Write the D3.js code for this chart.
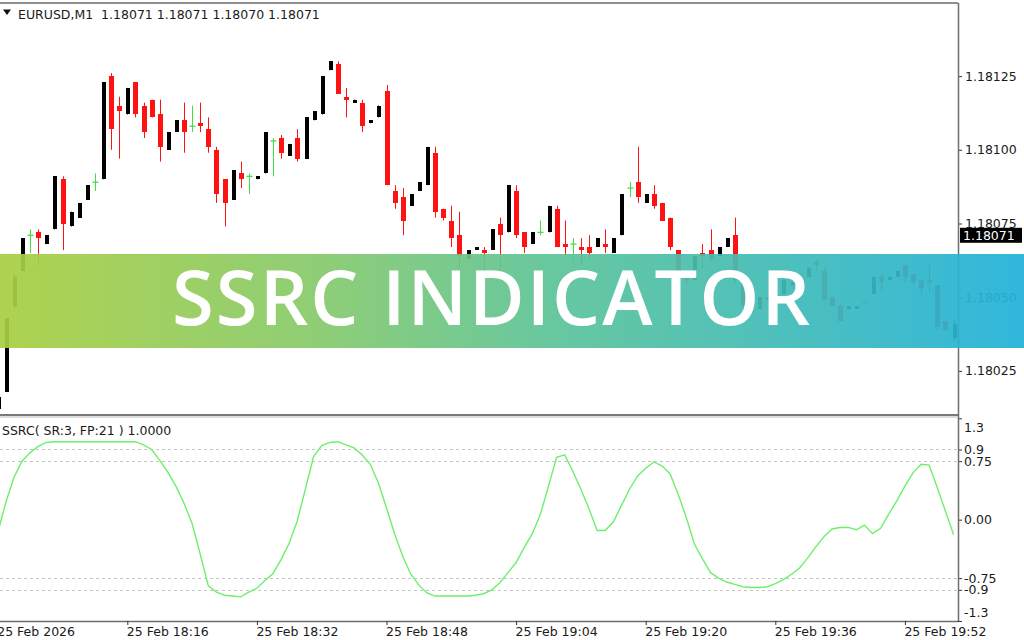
<!DOCTYPE html>
<html>
<head>
<meta charset="utf-8">
<script src="https://cdn.jsdelivr.net/npm/d3@7"></script>
<style>
  body { margin: 0; background: #fff; }
  svg { display: block; font-family: "DejaVu Sans", sans-serif; }
  .axis text { font-size: 12.5px; fill: #1a1a1a; font-family: "DejaVu Sans", sans-serif; }
</style>
</head>
<body>
<div id="chart"></div>
<script>
// EURUSD M1 bars, 18:00 .. 19:58 (bar 0 is cut off by the left edge)
const openP = [1.18012, 1.18018, 1.18047, 1.18059, 1.18071, 1.18072, 1.18068, 1.18073, 1.18090, 1.18074,
  1.18077, 1.18083, 1.18089, 1.18090, 1.18125, 1.18115, 1.18112, 1.18123, 1.18115, 1.18117,
  1.18112, 1.18100, 1.18106, 1.18110, 1.18108, 1.18109, 1.18107, 1.18100, 1.18090, 1.18083,
  1.18092, 1.18091, 1.18090, 1.18092, 1.18103, 1.18104, 1.18098, 1.18104, 1.18097, 1.18110,
  1.18112, 1.18127, 1.18129, 1.18118, 1.18116, 1.18116, 1.18109, 1.18111, 1.18120, 1.18086,
  1.18084, 1.18081, 1.18086, 1.18088, 1.18099, 1.18080, 1.18076, 1.18071, 1.18063, 1.18066,
  1.18066, 1.18066, 1.18075, 1.18072, 1.18086, 1.18072, 1.18068, 1.18072, 1.18072, 1.18080,
  1.18068, 1.18068, 1.18067, 1.18067, 1.18067, 1.18068, 1.18065, 1.18071, 1.18087, 1.18089,
  1.18082, 1.18085, 1.18082, 1.18077, 1.18066, 1.18057, 1.18056, 1.18065, 1.18066, 1.18064,
  1.18067, 1.18071, 1.18056, 1.18047, 1.18046, 1.18050, 1.18048, 1.18051, 1.18054, 1.18055,
  1.18057, 1.18062, 1.18059, 1.18050, 1.18047, 1.18046, 1.18046, 1.18048, 1.18051, 1.18057,
  1.18056, 1.18057, 1.18061, 1.18058, 1.18056, 1.18056, 1.18054, 1.18042, 1.18036]
const highP = [1.18020, 1.18043, 1.18058, 1.18070, 1.18073, 1.18073, 1.18071, 1.18091, 1.18091, 1.18079,
  1.18082, 1.18088, 1.18092, 1.18123, 1.18126, 1.18118, 1.18121, 1.18123, 1.18116, 1.18117,
  1.18117, 1.18106, 1.18110, 1.18116, 1.18115, 1.18116, 1.18111, 1.18101, 1.18090, 1.18093,
  1.18096, 1.18092, 1.18091, 1.18106, 1.18104, 1.18105, 1.18102, 1.18107, 1.18111, 1.18113,
  1.18125, 1.18130, 1.18130, 1.18121, 1.18117, 1.18117, 1.18110, 1.18115, 1.18122, 1.18088,
  1.18087, 1.18085, 1.18089, 1.18101, 1.18101, 1.18080, 1.18081, 1.18079, 1.18066, 1.18067,
  1.18067, 1.18073, 1.18077, 1.18088, 1.18088, 1.18072, 1.18072, 1.18076, 1.18081, 1.18081,
  1.18076, 1.18070, 1.18070, 1.18071, 1.18070, 1.18073, 1.18070, 1.18085, 1.18089, 1.18101,
  1.18085, 1.18088, 1.18082, 1.18077, 1.18066, 1.18058, 1.18064, 1.18068, 1.18073, 1.18067,
  1.18070, 1.18077, 1.18056, 1.18048, 1.18050, 1.18050, 1.18051, 1.18056, 1.18055, 1.18057,
  1.18060, 1.18063, 1.18060, 1.18050, 1.18048, 1.18047, 1.18047, 1.18048, 1.18057, 1.18058,
  1.18057, 1.18059, 1.18061, 1.18058, 1.18056, 1.18061, 1.18054, 1.18042, 1.18042]
const lowP = [1.18010, 1.18018, 1.18046, 1.18059, 1.18065, 1.18061, 1.18068, 1.18073, 1.18066, 1.18074,
  1.18077, 1.18083, 1.18086, 1.18090, 1.18100, 1.18097, 1.18112, 1.18111, 1.18104, 1.18111,
  1.18096, 1.18100, 1.18106, 1.18099, 1.18106, 1.18106, 1.18099, 1.18082, 1.18074, 1.18083,
  1.18087, 1.18085, 1.18090, 1.18092, 1.18091, 1.18097, 1.18098, 1.18096, 1.18097, 1.18110,
  1.18112, 1.18127, 1.18119, 1.18111, 1.18116, 1.18106, 1.18109, 1.18111, 1.18088, 1.18080,
  1.18071, 1.18081, 1.18086, 1.18088, 1.18077, 1.18076, 1.18067, 1.18060, 1.18063, 1.18066,
  1.18059, 1.18066, 1.18059, 1.18072, 1.18070, 1.18065, 1.18068, 1.18071, 1.18072, 1.18067,
  1.18064, 1.18061, 1.18061, 1.18063, 1.18067, 1.18065, 1.18065, 1.18071, 1.18084, 1.18082,
  1.18082, 1.18080, 1.18076, 1.18066, 1.18056, 1.18054, 1.18056, 1.18060, 1.18062, 1.18064,
  1.18067, 1.18055, 1.18046, 1.18044, 1.18046, 1.18049, 1.18048, 1.18051, 1.18054, 1.18055,
  1.18057, 1.18059, 1.18049, 1.18047, 1.18042, 1.18046, 1.18046, 1.18047, 1.18051, 1.18052,
  1.18056, 1.18057, 1.18055, 1.18054, 1.18051, 1.18052, 1.18039, 1.18039, 1.18035]
const closeP = [1.18016, 1.18043, 1.18057, 1.18070, 1.18071, 1.18070, 1.18071, 1.18091, 1.18075, 1.18079,
  1.18082, 1.18088, 1.18089, 1.18123, 1.18107, 1.18113, 1.18121, 1.18112, 1.18106, 1.18111,
  1.18101, 1.18106, 1.18110, 1.18106, 1.18108, 1.18108, 1.18101, 1.18085, 1.18082, 1.18093,
  1.18090, 1.18091, 1.18091, 1.18106, 1.18103, 1.18099, 1.18102, 1.18097, 1.18111, 1.18113,
  1.18125, 1.18130, 1.18119, 1.18117, 1.18117, 1.18108, 1.18110, 1.18115, 1.18088, 1.18082,
  1.18076, 1.18085, 1.18089, 1.18101, 1.18079, 1.18077, 1.18070, 1.18064, 1.18066, 1.18067,
  1.18065, 1.18073, 1.18071, 1.18088, 1.18071, 1.18067, 1.18072, 1.18072, 1.18081, 1.18067,
  1.18067, 1.18068, 1.18066, 1.18065, 1.18070, 1.18067, 1.18070, 1.18085, 1.18087, 1.18084,
  1.18085, 1.18081, 1.18076, 1.18067, 1.18057, 1.18056, 1.18064, 1.18064, 1.18063, 1.18067,
  1.18070, 1.18056, 1.18047, 1.18045, 1.18050, 1.18049, 1.18051, 1.18056, 1.18055, 1.18057,
  1.18060, 1.18061, 1.18049, 1.18047, 1.18042, 1.18047, 1.18047, 1.18048, 1.18057, 1.18055,
  1.18057, 1.18059, 1.18057, 1.18055, 1.18053, 1.18055, 1.18040, 1.18039, 1.18041]

// SSRC(SR:3, FP:21) per bar
const ssrc = [-0.17, 0.22, 0.54, 0.75, 0.86, 0.94, 0.99, 1.0, 1.0, 1.0,
  1.0, 1.0, 1.0, 1.0, 1.0, 1.0, 1.0, 1.0, 0.96, 0.90,
  0.76, 0.61, 0.43, 0.21, -0.05, -0.44, -0.85, -0.93, -0.97, -0.98,
  -0.99, -0.93, -0.88, -0.78, -0.69, -0.51, -0.30, -0.01, 0.40, 0.81,
  0.95, 0.99, 1.0, 0.96, 0.92, 0.83, 0.71, 0.47, 0.15, -0.18,
  -0.47, -0.70, -0.84, -0.94, -0.98, -0.98, -0.98, -0.98, -0.98, -0.97,
  -0.95, -0.90, -0.81, -0.68, -0.55, -0.36, -0.18, 0.07, 0.43, 0.80,
  0.83, 0.62, 0.39, 0.14, -0.14, -0.14, -0.03, 0.18, 0.39, 0.56,
  0.66, 0.74, 0.69, 0.59, 0.33, 0.03, -0.31, -0.50, -0.68, -0.75,
  -0.80, -0.83, -0.86, -0.87, -0.87, -0.86, -0.82, -0.77, -0.70, -0.62,
  -0.49, -0.35, -0.22, -0.12, -0.10, -0.10, -0.13, -0.07, -0.18, -0.11,
  0.07, 0.24, 0.43, 0.60, 0.71, 0.70, 0.41, 0.11, -0.19]

const priceTicks = [1.18025, 1.18050, 1.18075, 1.18100, 1.18125]
const ssrcTicks = [1.3, 0.9, 0.75, 0, -0.75, -0.9, -1.3]
const ssrcLevels = [0.9, 0.75, -0.75, -0.9]
const timeTickBars = [0, 16, 32, 48, 64, 80, 96, 112]
const timeTickLabels = ["25 Feb 2026", "25 Feb 18:16", "25 Feb 18:32", "25 Feb 18:48",
  "25 Feb 19:04", "25 Feb 19:20", "25 Feb 19:36", "25 Feb 19:52"]
const lastPrice = 1.18071
const headerText = "EURUSD,M1  1.18071 1.18071 1.18070 1.18071"
const ssrcLabel = "SSRC( SR:3, FP:21 ) 1.0000"
const bannerText = "SSRC INDICATOR"

const width = 1024
const height = 640
const plotRight = 958
const main = { top: 3, bottom: 414 }
const sub = { top: 418, bottom: 621 }

const svg = d3.select("#chart").append("svg")
  .attr("width", width)
  .attr("height", height)

const x = d3.scaleLinear().domain([0, openP.length - 1]).range([-2.3, 953.5])
const y = d3.scaleLinear().domain([1.18025, 1.18125]).range([370.9, 76.1])
const yI = d3.scaleLinear().domain([-1.3, 1.3]).range([sub.bottom, sub.top + 0.3])

const defs = svg.append("defs")
defs.append("clipPath").attr("id", "clipMain")
  .append("rect").attr("x", 0).attr("y", main.top).attr("width", plotRight).attr("height", main.bottom - main.top)
defs.append("clipPath").attr("id", "clipSub")
  .append("rect").attr("x", 0).attr("y", sub.top).attr("width", plotRight).attr("height", sub.bottom - sub.top)

// candles
const gC = svg.append("g").attr("clip-path", "url(#clipMain)")
const bars = d3.range(openP.length)
const colorOf = i => closeP[i] > openP[i] ? "#000" : (closeP[i] < openP[i] ? "#ff1212" : "#3fe03f")

gC.selectAll(".wick").data(bars).enter().append("line")
  .attr("x1", i => Math.round(x(i)) + 0.5)
  .attr("x2", i => Math.round(x(i)) + 0.5)
  .attr("y1", i => y(highP[i]))
  .attr("y2", i => y(lowP[i]))
  .attr("stroke", colorOf)
  .attr("stroke-width", 1)

gC.selectAll(".body").data(bars.filter(i => closeP[i] !== openP[i])).enter().append("rect")
  .attr("shape-rendering", "crispEdges")
  .attr("x", i => Math.round(x(i)) + 0.5 - (closeP[i] > openP[i] ? 2 : 2.5))
  .attr("width", i => closeP[i] > openP[i] ? 4 : 5)
  .attr("y", i => y(Math.max(openP[i], closeP[i])))
  .attr("height", i => Math.max(1.5, Math.abs(y(openP[i]) - y(closeP[i]))))
  .attr("fill", colorOf)

gC.selectAll(".doji").data(bars.filter(i => closeP[i] === openP[i])).enter().append("line")
  .attr("x1", i => Math.round(x(i)) - 2.5)
  .attr("x2", i => Math.round(x(i)) + 3.5)
  .attr("y1", i => y(openP[i]))
  .attr("y2", i => y(openP[i]))
  .attr("stroke", colorOf)
  .attr("stroke-width", 1.3)

// indicator pane
const gI = svg.append("g").attr("clip-path", "url(#clipSub)")
gI.selectAll(".lvl").data(ssrcLevels).enter().append("line")
  .attr("x1", 0).attr("x2", plotRight)
  .attr("y1", d => Math.round(yI(d)) + 0.5).attr("y2", d => Math.round(yI(d)) + 0.5)
  .attr("stroke", "#c4c4c4")
  .attr("stroke-dasharray", "3,3")

gI.append("path")
  .datum(ssrc)
  .attr("fill", "none")
  .attr("stroke", "#6cf06c")
  .attr("stroke-width", 1.4)
  .attr("d", d3.line().x((d, i) => x(i)).y(d => yI(d)))

// frame
svg.append("line").attr("x1", 0).attr("x2", plotRight).attr("y1", main.top).attr("y2", main.top)
  .attr("stroke", "#222").attr("stroke-width", 1.2)
svg.append("rect").attr("x", 0).attr("y", 414).attr("width", plotRight + 1).attr("height", 2).attr("fill", "#7a7a7a")
svg.append("line").attr("x1", 0).attr("x2", plotRight).attr("y1", 417).attr("y2", 417)
  .attr("stroke", "#bdbdbd").attr("stroke-width", 1)

// price axis
const axY = svg.append("g").attr("class", "axis")
  .attr("transform", `translate(${plotRight},0)`)
  .call(d3.axisRight(y).tickValues(priceTicks).tickSize(4).tickPadding(3).tickFormat(d3.format(".5f")))
axY.select(".domain").remove()
axY.selectAll(".tick line").attr("stroke", "#333")

// ssrc axis
const fmtI = d => d === 0 ? "0.00" : String(d)
const axI = svg.append("g").attr("class", "axis")
  .attr("transform", `translate(${plotRight},0)`)
  .call(d3.axisRight(yI).tickValues(ssrcTicks).tickSize(4).tickPadding(2).tickFormat(fmtI))
axI.select(".domain").remove()
axI.selectAll(".tick line").attr("stroke", "#333")
axI.selectAll(".tick text")
  .attr("dy", d => d === 1.3 ? "1.05em" : (d === -1.3 ? "-0.35em" : "0.32em"))

svg.append("line").attr("x1", plotRight + 0.5).attr("x2", plotRight + 0.5).attr("y1", main.top).attr("y2", sub.bottom)
  .attr("stroke", "#6e6e6e").attr("stroke-width", 1.5)

// time axis
const axX = svg.append("g").attr("class", "axis")
  .attr("transform", `translate(0,${sub.bottom})`)
  .call(d3.axisBottom(x).tickValues(timeTickBars).tickSize(4).tickPadding(2)
    .tickFormat((d, i) => timeTickLabels[i]))
axX.select(".domain").attr("d", `M0,0.5H${plotRight}`).attr("stroke", "#6e6e6e").attr("stroke-width", 1.5)
axX.selectAll(".tick line").attr("stroke", "#333")
axX.selectAll(".tick text").attr("text-anchor", "start").attr("x", -1)

// last price tag
svg.append("rect").attr("x", 960).attr("y", y(lastPrice) - 7.5).attr("width", 62).attr("height", 15).attr("fill", "#000")
svg.append("text").attr("x", 963).attr("y", y(lastPrice) + 4.5)
  .attr("font-size", 12.5).attr("fill", "#fff").text(d3.format(".5f")(lastPrice))

// header + indicator label
svg.append("path").attr("d", "M3,9.5 L11,9.5 L7,15 Z").attr("fill", "#111")
svg.append("text").attr("x", 18).attr("y", 18.5).attr("font-size", 12.5).attr("fill", "#1a1a1a")
  .attr("xml:space", "preserve").style("white-space", "pre").text(headerText)
svg.append("text").attr("x", 2).attr("y", 434.5).attr("font-size", 12.5).attr("fill", "#1a1a1a").text(ssrcLabel)

// banner
const grad = defs.append("linearGradient").attr("id", "bannerGrad").attr("x1", "0%").attr("x2", "100%")
grad.append("stop").attr("offset", "0%").attr("stop-color", "#a9cf42")
grad.append("stop").attr("offset", "30%").attr("stop-color", "#88ca6a")
grad.append("stop").attr("offset", "55%").attr("stop-color", "#5bc39a")
grad.append("stop").attr("offset", "100%").attr("stop-color", "#22b2d9")
svg.append("rect").attr("x", 0).attr("y", 254).attr("width", width).attr("height", 94)
  .attr("fill", "url(#bannerGrad)").attr("opacity", 0.93)
svg.append("text").attr("x", 172).attr("y", 325)
  .attr("font-family", "'Open Sans', 'Noto Sans', sans-serif").attr("font-weight", 600)
  .attr("font-size", 76).attr("fill", "#fff")
  .attr("textLength", 638).attr("lengthAdjust", "spacing")
  .text(bannerText)
</script>
</body>
</html>
